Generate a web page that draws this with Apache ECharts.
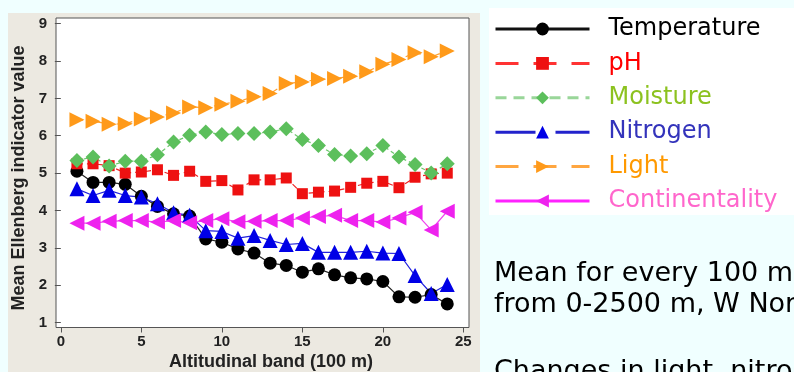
<!DOCTYPE html>
<html>
<head>
<meta charset="utf-8">
<script src="https://cdn.jsdelivr.net/npm/echarts@6/dist/echarts.min.js"></script>
<style>
  html, body { margin: 0; padding: 0; background: #f0ffff; }
  #chart { width: 794px; height: 372px; }
</style>
</head>
<body>
<div id="chart"></div>
<script>
const bands = [1,2,3,4,5,6,7,8,9,10,11,12,13,14,15,16,17,18,19,20,21,22,23,24];
const temperature = [5.05,4.75,4.75,4.70,4.38,4.11,3.91,3.85,3.24,3.15,2.97,2.86,2.59,2.53,2.35,2.44,2.28,2.20,2.17,2.10,1.69,1.68,1.75,1.50];
const pH = [5.25,5.25,5.20,5.00,5.03,5.09,4.94,5.05,4.78,4.80,4.55,4.82,4.82,4.87,4.45,4.49,4.52,4.62,4.73,4.78,4.61,4.89,4.98,5.00];
const moisture = [5.34,5.43,5.19,5.32,5.32,5.49,5.83,6.01,6.10,6.03,6.06,6.06,6.10,6.19,5.90,5.74,5.50,5.46,5.52,5.74,5.43,5.23,5.00,5.25];
const nitrogen = [4.58,4.40,4.54,4.40,4.36,4.18,3.94,3.87,3.46,3.44,3.26,3.33,3.20,3.09,3.12,2.88,2.88,2.88,2.91,2.86,2.85,2.26,1.78,2.02];
const light = [6.43,6.39,6.31,6.32,6.45,6.50,6.61,6.77,6.75,6.84,6.92,7.04,7.13,7.40,7.44,7.51,7.53,7.59,7.71,7.91,8.04,8.22,8.11,8.27];
const continentality = [3.66,3.66,3.71,3.73,3.73,3.69,3.73,3.67,3.73,3.78,3.70,3.71,3.73,3.73,3.80,3.84,3.87,3.73,3.73,3.69,3.80,3.95,3.48,3.98];
const xTicks = [0,5,10,15,20,25];
const yTicks = [1,2,3,4,5,6,7,8,9];
const seriesNames = ['Temperature','pH','Moisture','Nitrogen','Light','Continentality'];
const yTitle = 'Mean Ellenberg indicator value';
const xTitle = 'Altitudinal band (100 m)';
const noteLines = ['Mean for every 100 m', 'from 0-2500 m, W Norway', 'Changes in light, nitrogen'];

function pairs(arr) { return bands.map((b, i) => [b, arr[i]]); }

const chart = echarts.init(document.getElementById('chart'), null, { renderer: 'canvas' });

const seriesDefs = [
  { name: seriesNames[0], data: temperature, color: '#000000', line: '#222222', lineType: 'solid', symbol: 'circle', size: 13, rot: 0 },
  { name: seriesNames[1], data: pH, color: '#ee1111', line: '#ee2222', lineType: [6,4], symbol: 'rect', size: 11, rot: 0 },
  { name: seriesNames[2], data: moisture, color: '#5cbf5c', line: '#6cc86c', lineType: [4,3], symbol: 'diamond', size: 15, rot: 0 },
  { name: seriesNames[3], data: nitrogen, color: '#0000e6', line: '#2222dd', lineType: 'solid', symbol: 'triangle', size: 15, rot: 0 },
  { name: seriesNames[4], data: light, color: '#ff9a1a', line: '#ffa030', lineType: [6,4], symbol: 'triangle', size: 15, rot: -90 },
  { name: seriesNames[5], data: continentality, color: '#ee22ee', line: '#ee44ee', lineType: 'solid', symbol: 'triangle', size: 15, rot: 90 }
];

const legendStyles = [
  { line: { type: 'solid', width: 3, color: '#111' }, text: '#000000' },
  { line: { type: [23,15], width: 3, color: '#ff3333' }, text: '#ff0000' },
  { line: { type: [11,7], width: 3, color: '#99d699' }, text: '#8cc21f' },
  { line: { type: [40,20], width: 3, color: '#2222cc' }, text: '#3333bb' },
  { line: { type: [23,15], width: 3, color: '#ffa640' }, text: '#ff9900' },
  { line: { type: 'solid', width: 3, color: '#ff22ff' }, text: '#ff66cc' }
];

const option = {
  animation: false,
  backgroundColor: 'transparent',
  grid: { left: 56, right: 325, top: 18, bottom: 44.5, show: true, backgroundColor: '#ffffff', borderColor: '#555555', borderWidth: 1 },
  xAxis: {
    type: 'value', min: -0.3, max: 25.35,
    axisLine: { show: false },
    splitLine: { show: false },
    axisTick: { show: true, inside: false, length: 5, lineStyle: { color: '#555' }, customValues: xTicks },
    axisLabel: { customValues: xTicks, color: '#222', fontFamily: 'Liberation Sans', fontWeight: 'bold', fontSize: 15, margin: 7 }
  },
  yAxis: {
    type: 'value', min: 0.87, max: 9.15,
    axisLine: { show: false },
    splitLine: { show: false },
    axisTick: { show: true, inside: false, length: 6, lineStyle: { color: '#555' }, customValues: yTicks },
    axisLabel: { customValues: yTicks, color: '#222', fontFamily: 'Liberation Sans', fontWeight: 'bold', fontSize: 15, margin: 9 }
  },
  legend: {
    orient: 'vertical', left: 494, top: 17, padding: 0,
    itemWidth: 94, itemHeight: 16, itemGap: 10.4,
    selectedMode: false,
    textStyle: { fontFamily: 'DejaVu Sans', fontSize: 24, lineHeight: 24, padding: [0,0,0,14] },
    data: seriesNames.map((n, i) => ({ name: n, lineStyle: legendStyles[i].line, textStyle: { color: legendStyles[i].text } }))
  },
  graphic: [
    { type: 'rect', z: -100, silent: true, shape: { x: 8, y: 13, width: 472, height: 360 }, style: { fill: '#ece9e1' } },
    { type: 'rect', z: -100, silent: true, shape: { x: 489, y: 8, width: 310, height: 207 }, style: { fill: '#ffffff' } },
    { type: 'text', silent: true, x: 19, y: 178, rotation: Math.PI / 2, style: { text: yTitle, fill: '#222', font: 'bold 18px "Liberation Sans"', align: 'center', verticalAlign: 'middle' } },
    { type: 'text', silent: true, x: 271, y: 362, style: { text: xTitle, fill: '#222', font: 'bold 18px "Liberation Sans"', align: 'center', verticalAlign: 'middle' } },
    { type: 'text', silent: true, x: 494, y: 274, style: { text: noteLines[0], fill: '#000', font: '27px "DejaVu Sans"', align: 'left', verticalAlign: 'middle' } },
    { type: 'text', silent: true, x: 494, y: 305, style: { text: noteLines[1], fill: '#000', font: '27px "DejaVu Sans"', align: 'left', verticalAlign: 'middle' } },
    { type: 'text', silent: true, x: 494, y: 372, style: { text: noteLines[2], fill: '#000', font: '27px "DejaVu Sans"', align: 'left', verticalAlign: 'middle' } }
  ],
  series: seriesDefs.map(s => ({
    name: s.name, type: 'line', data: pairs(s.data),
    symbol: s.symbol, symbolSize: s.size, symbolRotate: s.rot,
    itemStyle: { color: s.color },
    lineStyle: { color: s.line, width: 1.2, type: s.lineType },
    emphasis: { disabled: true }
  }))
};
chart.setOption(option);
</script>
</body>
</html>
